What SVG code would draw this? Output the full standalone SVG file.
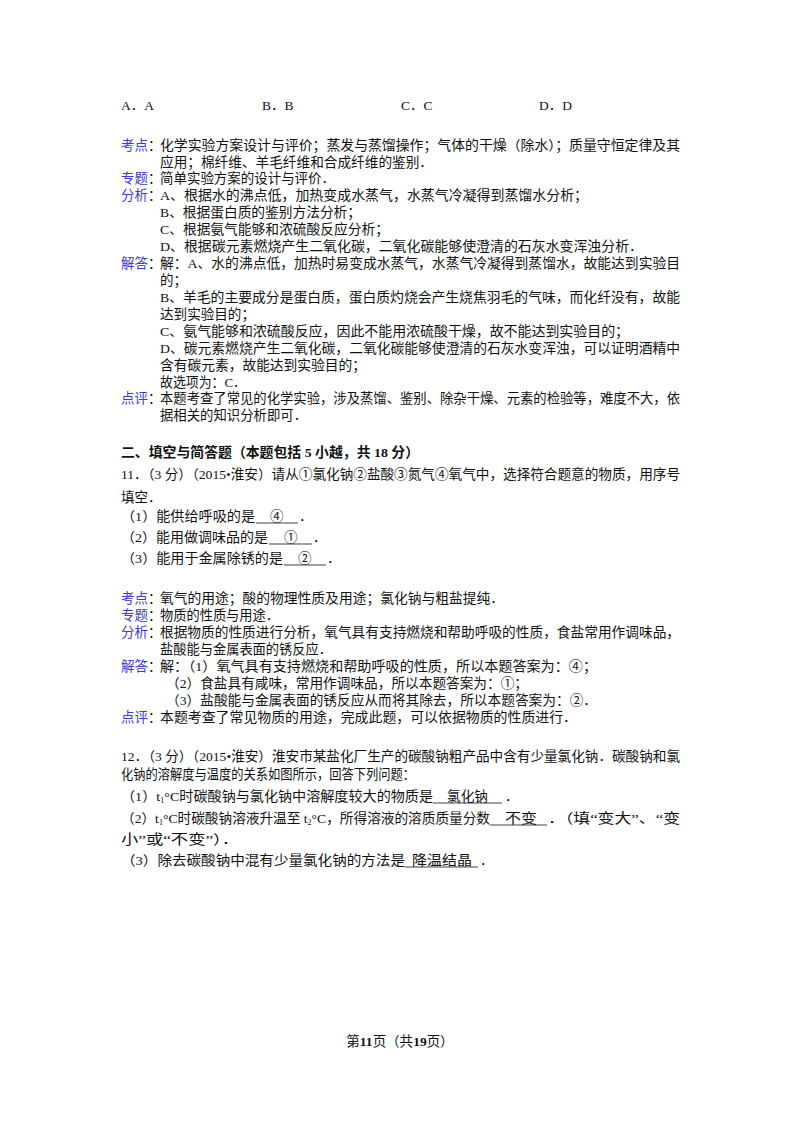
<svg xmlns="http://www.w3.org/2000/svg" width="800" height="1132" viewBox="0 0 800 1132">
<style>
text{font-family:"Liberation Serif","Noto Sans CJK SC",serif;font-size:13.5px;fill:#111}
.b{fill:#3a3ad6}
.h{font-weight:bold}
line{stroke:#111;stroke-width:0.8}
</style>
<rect width="800" height="1132" fill="#fff"/>
<g id="options">
<text x="121" y="110">A．A</text><text x="262" y="110">B．B</text><text x="401" y="110">C．C</text><text x="539" y="110">D．D</text>
</g>
<g id="q10">
<text class="b" x="121" y="150">考点</text><text x="148" y="150">：</text>
<text x="160" y="150" textLength="520" lengthAdjust="spacingAndGlyphs">化学实验方案设计与评价；蒸发与蒸馏操作；气体的干燥（除水）；质量守恒定律及其</text>
<text x="160" y="167" textLength="273" lengthAdjust="spacingAndGlyphs">应用；棉纤维、羊毛纤维和合成纤维的鉴别．</text>
<text class="b" x="121" y="183">专题</text><text x="148" y="183">：</text>
<text x="160" y="183" textLength="175" lengthAdjust="spacingAndGlyphs">简单实验方案的设计与评价．</text>
<text class="b" x="121" y="200">分析</text><text x="148" y="200">：</text>
<text x="160" y="200" textLength="428" lengthAdjust="spacingAndGlyphs">A、根据水的沸点低，加热变成水蒸气，水蒸气冷凝得到蒸馏水分析；</text>
<text x="160" y="217" textLength="201" lengthAdjust="spacingAndGlyphs">B、根据蛋白质的鉴别方法分析；</text>
<text x="160" y="234" textLength="229" lengthAdjust="spacingAndGlyphs">C、根据氨气能够和浓硫酸反应分析；</text>
<text x="160" y="251" textLength="483" lengthAdjust="spacingAndGlyphs">D、根据碳元素燃烧产生二氧化碳，二氧化碳能够使澄清的石灰水变浑浊分析．</text>
<text class="b" x="121" y="268">解答</text><text x="148" y="268">：</text>
<text x="160" y="268" textLength="520" lengthAdjust="spacingAndGlyphs">解：A、水的沸点低，加热时易变成水蒸气，水蒸气冷凝得到蒸馏水，故能达到实验目</text>
<text x="160" y="285">的；</text>
<text x="160" y="302" textLength="520" lengthAdjust="spacingAndGlyphs">B、羊毛的主要成分是蛋白质，蛋白质灼烧会产生烧焦羽毛的气味，而化纤没有，故能</text>
<text x="160" y="319" textLength="95" lengthAdjust="spacingAndGlyphs">达到实验目的；</text>
<text x="160" y="336" textLength="469" lengthAdjust="spacingAndGlyphs">C、氨气能够和浓硫酸反应，因此不能用浓硫酸干燥，故不能达到实验目的；</text>
<text x="160" y="353" textLength="520" lengthAdjust="spacingAndGlyphs">D、碳元素燃烧产生二氧化碳，二氧化碳能够使澄清的石灰水变浑浊，可以证明酒精中</text>
<text x="160" y="370" textLength="206" lengthAdjust="spacingAndGlyphs">含有碳元素，故能达到实验目的；</text>
<text x="160" y="387" textLength="86" lengthAdjust="spacingAndGlyphs">故选项为：C．</text>
<text class="b" x="121" y="403">点评</text><text x="148" y="403">：</text>
<text x="160" y="403" textLength="520" lengthAdjust="spacingAndGlyphs">本题考查了常见的化学实验，涉及蒸馏、鉴别、除杂干燥、元素的检验等，难度不大，依</text>
<text x="160" y="420" textLength="147" lengthAdjust="spacingAndGlyphs">据相关的知识分析即可．</text>
</g>
<g id="section2">
<text class="h" x="121" y="457" textLength="298" lengthAdjust="spacingAndGlyphs">二、填空与简答题（本题包括 5 小越，共 18 分）</text>
</g>
<g id="q11">
<text x="121" y="479" textLength="559" lengthAdjust="spacingAndGlyphs">11．（3 分）（2015•淮安）请从①氯化钠②盐酸③氮气④氧气中，选择符合题意的物质，用序号</text>
<text x="121" y="502">填空．</text>
<text x="121" y="521" textLength="134" lengthAdjust="spacingAndGlyphs">（1）能供给呼吸的是</text><text x="270" y="521">④</text><line x1="256" y1="523" x2="298" y2="523"/><text x="299" y="521">．</text>
<text x="121" y="542" textLength="147" lengthAdjust="spacingAndGlyphs">（2）能用做调味品的是</text><text x="284" y="542">①</text><line x1="269" y1="544" x2="312" y2="544"/><text x="313" y="542">．</text>
<text x="121" y="563" textLength="162" lengthAdjust="spacingAndGlyphs">（3）能用于金属除锈的是</text><text x="298" y="563">②</text><line x1="284" y1="565" x2="326" y2="565"/><text x="327" y="563">．</text>
<text class="b" x="121" y="603">考点</text><text x="148" y="603">：</text>
<text x="160" y="603" textLength="344" lengthAdjust="spacingAndGlyphs">氧气的用途；酸的物理性质及用途；氯化钠与粗盐提纯．</text>
<text class="b" x="121" y="620">专题</text><text x="148" y="620">：</text>
<text x="160" y="620" textLength="119" lengthAdjust="spacingAndGlyphs">物质的性质与用途．</text>
<text class="b" x="121" y="637">分析</text><text x="148" y="637">：</text>
<text x="160" y="637" textLength="520" lengthAdjust="spacingAndGlyphs">根据物质的性质进行分析，氧气具有支持燃烧和帮助呼吸的性质，食盐常用作调味品，</text>
<text x="160" y="654" textLength="172" lengthAdjust="spacingAndGlyphs">盐酸能与金属表面的锈反应．</text>
<text class="b" x="121" y="671">解答</text><text x="148" y="671">：</text>
<text x="160" y="671" textLength="437" lengthAdjust="spacingAndGlyphs">解：（1）氧气具有支持燃烧和帮助呼吸的性质，所以本题答案为：④；</text>
<text x="166" y="688" textLength="362" lengthAdjust="spacingAndGlyphs">（2）食盐具有咸味，常用作调味品，所以本题答案为：①；</text>
<text x="166" y="705" textLength="431" lengthAdjust="spacingAndGlyphs">（3）盐酸能与金属表面的锈反应从而将其除去，所以本题答案为：②．</text>
<text class="b" x="121" y="722">点评</text><text x="148" y="722">：</text>
<text x="160" y="722" textLength="417" lengthAdjust="spacingAndGlyphs">本题考查了常见物质的用途，完成此题，可以依据物质的性质进行．</text>
</g>
<g id="q12">
<text x="121" y="761" textLength="559" lengthAdjust="spacingAndGlyphs">12．（3 分）（2015•淮安）淮安市某盐化厂生产的碳酸钠粗产品中含有少量氯化钠．碳酸钠和氯</text>
<text x="121" y="779" textLength="294" lengthAdjust="spacingAndGlyphs">化钠的溶解度与温度的关系如图所示，回答下列问题：</text>
<text x="121" y="801" textLength="312" lengthAdjust="spacingAndGlyphs">（1）t<tspan font-size="8" dy="2">1</tspan><tspan dy="-2">°C时碳酸钠与氯化钠中溶解度较大的物质是</tspan></text>
<text x="447" y="801" textLength="41" lengthAdjust="spacingAndGlyphs">氯化钠</text><line x1="433" y1="803" x2="502" y2="803"/><text x="505" y="801">．</text>
<text x="121" y="823" textLength="369" lengthAdjust="spacingAndGlyphs">（2）t<tspan font-size="8" dy="2">1</tspan><tspan dy="-2">°C时碳酸钠溶液升温至 t</tspan><tspan font-size="8" dy="2">2</tspan><tspan dy="-2">°C，所得溶液的溶质质量分数</tspan></text>
<text x="505" y="823" textLength="32" lengthAdjust="spacingAndGlyphs">不变</text><line x1="490" y1="825" x2="547" y2="825"/>
<text x="548" y="823" textLength="132" lengthAdjust="spacingAndGlyphs">．（填“变大”、“变</text>
<text x="121" y="844" textLength="118" lengthAdjust="spacingAndGlyphs">小”或“不变”）．</text>
<text x="121" y="865" textLength="284" lengthAdjust="spacingAndGlyphs">（3）除去碳酸钠中混有少量氯化钠的方法是</text>
<text x="412" y="865" textLength="60" lengthAdjust="spacingAndGlyphs">降温结晶</text><line x1="405" y1="867" x2="478" y2="867"/><text x="480" y="865">．</text>
</g>
<g id="footer">
<text x="400" y="1046" text-anchor="middle" font-size="12">第<tspan font-weight="bold">11</tspan>页（共<tspan font-weight="bold">19</tspan>页）</text>
</g>
</svg>
